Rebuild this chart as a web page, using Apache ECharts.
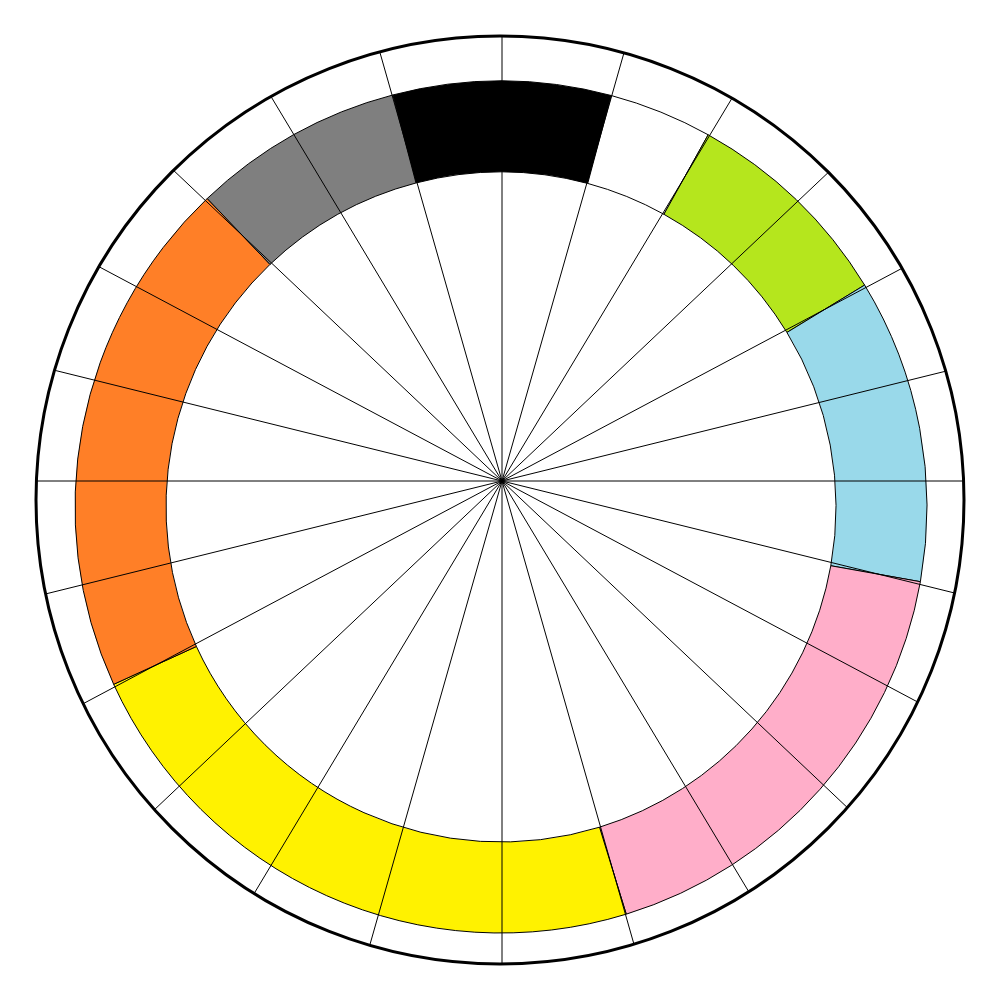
<!DOCTYPE html>
<html><head><meta charset="utf-8">
<script src="https://cdn.jsdelivr.net/npm/echarts@6/dist/echarts.min.js"></script>
<style>html,body{margin:0;padding:0;background:#fff}#c{width:1000px;height:1000px}</style>
</head><body><div id="c"></div>
<script>
// Ring segments, clockwise starting at the left edge of the black one
const segmentNames = ['black', 'white', 'green', 'blue', 'pink', 'yellow', 'orange', 'gray'];
const segmentSpans = [29.7, 14.1, 29.5, 41.5, 62.8, 82.5, 71.0, 28.9];
const segmentColors = ['#000000', '#FFFFFF', '#B5E61D', '#99D9EA', '#FFAEC9', '#FFF200', '#FF7F27', '#7F7F7F'];
const ringStart = 345.3; // degrees clockwise from top where the black segment starts
// Spoke directions, degrees clockwise from top
const spokeAngles = [0, 15.9, 31, 46.6, 62, 76.1, 90, 103.9, 118, 133.4, 149, 164.1,
                     180, 195.9, 211, 226.6, 242, 256.1, 270, 283.9, 298, 313.4, 329, 344.1];

const OUTER = { cx: 500, cy: 500, r: 464 };
const chart = echarts.init(document.getElementById('c'), null, { renderer: 'canvas' });

const barSeries = segmentSpans.map((v, i) => ({
  type: 'bar', coordinateSystem: 'polar', polarIndex: 1, stack: 'ring',
  name: segmentNames[i], data: [v], barCategoryGap: '0%',
  itemStyle: { color: segmentColors[i], borderColor: '#000', borderWidth: 1 },
  z: 2, silent: true
}));

const spokeSeries = {
  type: 'custom', coordinateSystem: 'polar', polarIndex: 2, clip: false, z: 5, silent: true,
  data: spokeAngles.map(a => [100, a]),
  renderItem: function (params, api) {
    const a = api.value(1);
    const c = api.coord([0, a]);
    const p = api.coord([100, a]);
    let ux = p[0] - c[0], uy = p[1] - c[1];
    const L = Math.sqrt(ux * ux + uy * uy); ux /= L; uy /= L;
    const dx = c[0] - OUTER.cx, dy = c[1] - OUTER.cy;
    const b = ux * dx + uy * dy;
    const t = -b + Math.sqrt(b * b - (dx * dx + dy * dy) + OUTER.r * OUTER.r);
    return {
      type: 'line',
      shape: { x1: c[0], y1: c[1], x2: c[0] + ux * t, y2: c[1] + uy * t },
      style: { stroke: '#000', lineWidth: 1 }
    };
  }
};

const option = {
  animation: false,
  backgroundColor: '#ffffff',
  polar: [
    { center: [OUTER.cx, OUTER.cy], radius: OUTER.r },
    { center: [501, 507], radius: [335, 426] },
    { center: [502, 481], radius: 480 }
  ],
  angleAxis: [
    { polarIndex: 0, type: 'value', min: 0, max: 360, startAngle: 90,
      axisLine: { show: true, lineStyle: { color: '#000', width: 3 } },
      axisTick: { show: false }, axisLabel: { show: false }, splitLine: { show: false } },
    { polarIndex: 1, type: 'value', min: 0, max: 360, startAngle: 90 - ringStart + 360, clockwise: true, show: false },
    { polarIndex: 2, type: 'value', min: 0, max: 360, startAngle: 90, clockwise: true, show: false }
  ],
  radiusAxis: [
    { polarIndex: 0, type: 'value', min: 0, max: 1, show: false },
    { polarIndex: 1, type: 'category', data: ['ring'], show: false },
    { polarIndex: 2, type: 'value', min: 0, max: 100, show: false }
  ],
  series: barSeries.concat([spokeSeries])
};
chart.setOption(option);
</script>
</body></html>
